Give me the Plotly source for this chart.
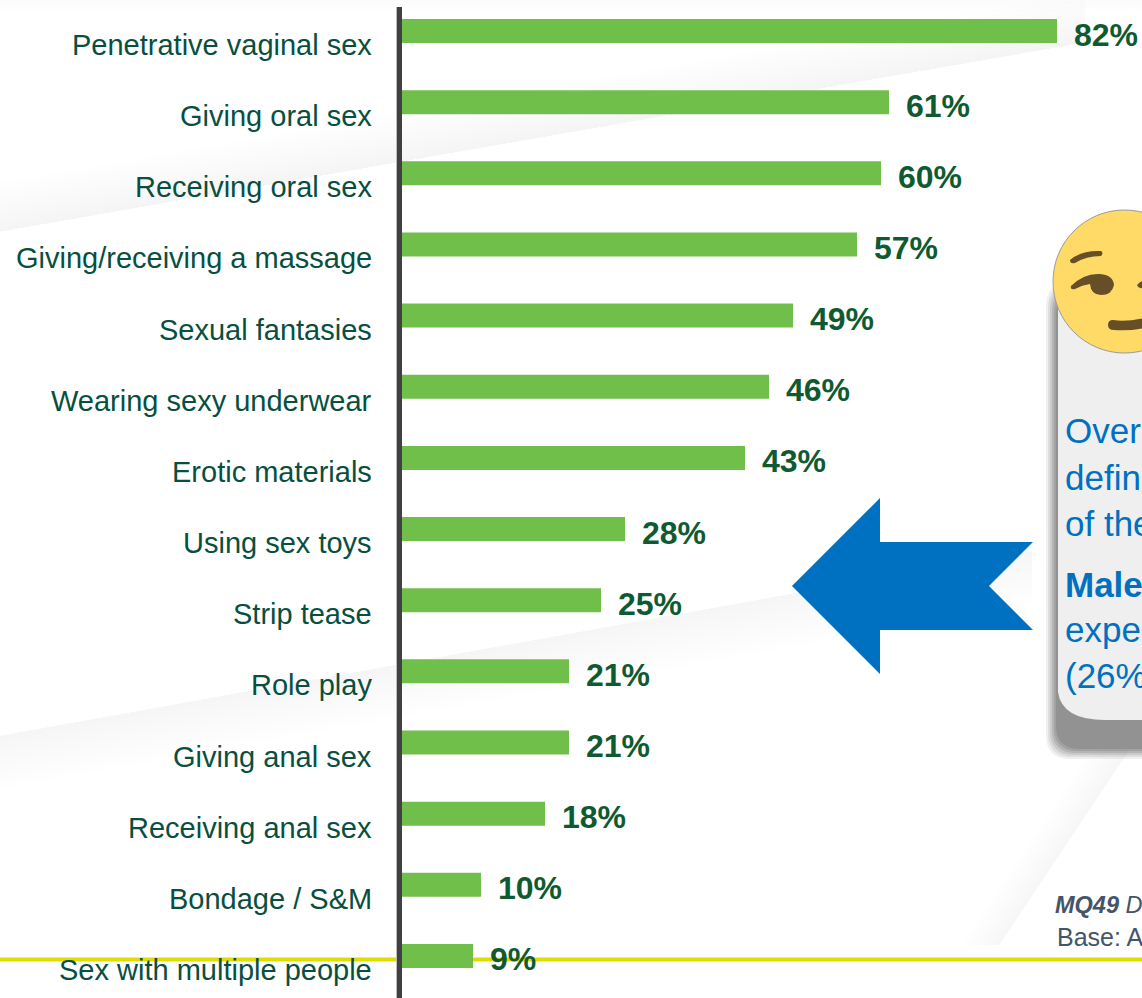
import plotly.graph_objects as go

WIDTH, HEIGHT = 1142, 998

categories = ["Penetrative vaginal sex", "Giving oral sex", "Receiving oral sex",
              "Giving/receiving a massage", "Sexual fantasies", "Wearing sexy underwear",
              "Erotic materials", "Using sex toys", "Strip tease", "Role play",
              "Giving anal sex", "Receiving anal sex", "Bondage / S&M",
              "Sex with multiple people"]
shares = [82, 61, 60, 57, 49, 46, 43, 28, 25, 21, 21, 18, 10, 9]

callout_lines = ["Over", "defin", "of the", "<b>Male</b>", "expe", "(26%"]
callout_line_y = [431, 478, 523, 584, 629, 675]

FONT = "Liberation Sans"
BAR_GREEN = "#70BF4B"
LABEL_GREEN = "#084F3F"
VALUE_GREEN = "#0F5A30"
BLUE = "#0070C0"
SLATE = "#44546A"

# Horizontal scale: 8 px per percentage point, zero at x = 401.
PX_PER_PCT = 8.0
ZERO_PX = 401
ROW_STEP = 71.15
FIRST_ROW_PX = 31


def fx(px):
    return px / WIDTH


def fy(py):
    return 1 - py / HEIGHT


def path(cmds):
    """Build an SVG path in paper units from (command, x, y, ...) tuples in pixels."""
    parts = []
    for cmd in cmds:
        letter, nums = cmd[0], cmd[1:]
        pts = []
        for i in range(0, len(nums), 2):
            pts.append(f"{fx(nums[i]):.5f},{fy(nums[i + 1]):.5f}")
        parts.append(letter + " ".join(pts))
    return " ".join(parts) + " Z"


def filled(cmds, color, line=None, layer="below"):
    return dict(type="path", xref="paper", yref="paper", path=path(cmds),
                fillcolor=color, layer=layer,
                line=dict(width=line[1], color=line[0]) if line else dict(width=0))


def poly(points, color, layer="below"):
    cmds = [("M", *points[0])] + [("L", *p) for p in points[1:]]
    return filled(cmds, color, layer=layer)


def rounded(x0, y0, x1, y1, r, color):
    return filled([("M", x0 + r, y0), ("L", x1 - r, y0), ("Q", x1, y0, x1, y0 + r),
                   ("L", x1, y1 - r), ("Q", x1, y1, x1 - r, y1), ("L", x0 + r, y1),
                   ("Q", x0, y1, x0, y1 - r), ("L", x0, y0 + r), ("Q", x0, y0, x0 + r, y0)],
                  color)


shapes = []

# Faint grey swooshes of the slide background, built from stacked translucent layers.
for d in range(5, 51, 5):
    shapes.append(poly([(-10, 234), (1085, 43), (1085, 43 - d), (-10, 234 - d)],
                       "rgba(0,0,0,0.0045)"))
for d in range(6, 55, 6):
    shapes.append(poly([(-10, 737), (1033, 550), (1033, 550 + d), (-10, 737 + d)],
                       "rgba(0,0,0,0.004)"))
for d in range(5, 41, 5):
    shapes.append(poly([(1130, 750), (1000, 945), (1000 - d, 945), (1130 - d, 750)],
                       "rgba(0,0,0,0.004)"))
for d in (4, 8, 12):
    shapes.append(poly([(0, 0), (1142, 0), (1142, d), (0, d)], "rgba(0,0,0,0.004)"))

# Footer rule.
shapes.append(dict(type="line", xref="paper", yref="paper", x0=0, x1=1, y0=fy(959.5), y1=fy(959.5),
                   layer="below", line=dict(color="#E0DC00", width=4)))

# Call-out panel with a soft drop shadow.
for grow, alpha in ((6, 0.10), (4, 0.14), (2, 0.18), (0, 0.22), (-2, 0.26), (-4, 0.30)):
    shapes.append(rounded(1052 - grow, 288 - grow, 1190, 753 + grow, 24, f"rgba(110,110,110,{alpha})"))
shapes.append(filled([("M", 1058, 290), ("L", 1190, 290), ("L", 1190, 720), ("L", 1105, 720),
                      ("Q", 1062, 720, 1058, 692)], "#EFEFEF"))

# Winking face.
cx, cy, r = 1124.5, 281.5, 71.5
k = 0.5523 * r
shapes.append(filled([("M", cx - r, cy), ("C", cx - r, cy - k, cx - k, cy - r, cx, cy - r),
                      ("C", cx + k, cy - r, cx + r, cy - k, cx + r, cy),
                      ("C", cx + r, cy + k, cx + k, cy + r, cx, cy + r),
                      ("C", cx - k, cy + r, cx - r, cy + k, cx - r, cy)],
                     "#FFDA66", line=("#9A9A9A", 1)))
FACE = "#664E27"
shapes.append(filled([("M", 1070, 260), ("Q", 1082, 250, 1101, 251), ("Q", 1104, 253, 1101, 256),
                      ("Q", 1086, 256, 1075, 263), ("Q", 1070, 264, 1070, 260)], FACE))
shapes.append(filled([("M", 1071, 286), ("Q", 1084, 273, 1100, 274), ("Q", 1113, 275, 1114, 285),
                      ("Q", 1112, 295, 1101, 295), ("Q", 1091, 295, 1090, 284),
                      ("Q", 1082, 285, 1075, 289), ("Q", 1070, 290, 1071, 286)], FACE))
shapes.append(filled([("M", 1137, 285), ("Q", 1140, 282, 1144, 280), ("L", 1144, 288),
                      ("Q", 1139, 289, 1137, 285)], FACE))
shapes.append(filled([("M", 1144, 318), ("Q", 1126, 322, 1113, 320), ("Q", 1108, 320, 1108, 325),
                      ("Q", 1108, 330, 1114, 330), ("Q", 1130, 331, 1144, 328)], FACE))

# Block arrow pointing from the panel towards the bars.
shapes.append(poly([(792, 586), (880, 498), (880, 542), (1033, 542), (989, 586),
                    (1033, 630), (880, 630), (880, 674)], BLUE))

# Vertical axis bar with its light left edge, drawn over the bar bases.
shapes.append(poly([(396, 7), (402, 7), (402, 998), (396, 998)], "#BDBDBD", layer="above"))
shapes.append(poly([(397, 7), (402, 7), (402, 998), (397, 998)], "#404040", layer="above"))

annotations = []
for name, value in zip(categories, shares):
    annotations.append(dict(x=0, y=name, xref="x", yref="y", text=name, showarrow=False,
                            xanchor="right", yanchor="middle", xshift=-27, yshift=-14,
                            font=dict(family=FONT, size=29, color=LABEL_GREEN)))
    annotations.append(dict(x=value, y=name, xref="x", yref="y", text=f"<b>{value}%</b>",
                            showarrow=False, xanchor="left", yanchor="middle", xshift=15, yshift=-3.5,
                            font=dict(family=FONT, size=32, color=VALUE_GREEN)))

for line, y in zip(callout_lines, callout_line_y):
    annotations.append(dict(x=fx(1063), y=fy(y), xref="paper", yref="paper", text=line,
                            showarrow=False, xanchor="left", yanchor="middle", align="left",
                            font=dict(family=FONT, size=35, color=BLUE)))

annotations.append(dict(x=fx(1053), y=fy(905), xref="paper", yref="paper",
                        text="<b><i>MQ49</i></b> <i>D</i>", showarrow=False, xanchor="left",
                        yanchor="middle", font=dict(family=FONT, size=23.5, color=SLATE)))
annotations.append(dict(x=fx(1055), y=fy(937), xref="paper", yref="paper", text="Base: A",
                        showarrow=False, xanchor="left", yanchor="middle",
                        font=dict(family=FONT, size=25, color=SLATE)))

fig = go.Figure(go.Bar(x=shares, y=categories, orientation="h", width=24 / ROW_STEP,
                       marker=dict(color=BAR_GREEN, line=dict(width=0)), hoverinfo="skip"))

fig.update_layout(
    width=WIDTH, height=HEIGHT, margin=dict(l=0, r=0, t=0, b=0),
    paper_bgcolor="white", plot_bgcolor="rgba(0,0,0,0)", showlegend=False,
    shapes=shapes, annotations=annotations,
    xaxis=dict(range=[-ZERO_PX / PX_PER_PCT, (WIDTH - ZERO_PX) / PX_PER_PCT], visible=False,
               domain=[0, 1], fixedrange=True),
    yaxis=dict(type="category", categoryorder="array", categoryarray=categories,
               range=[(HEIGHT - FIRST_ROW_PX) / ROW_STEP, -FIRST_ROW_PX / ROW_STEP],
               visible=False, domain=[0, 1], fixedrange=True),
)

fig.write_html("out.html", config=dict(displayModeBar=False))
